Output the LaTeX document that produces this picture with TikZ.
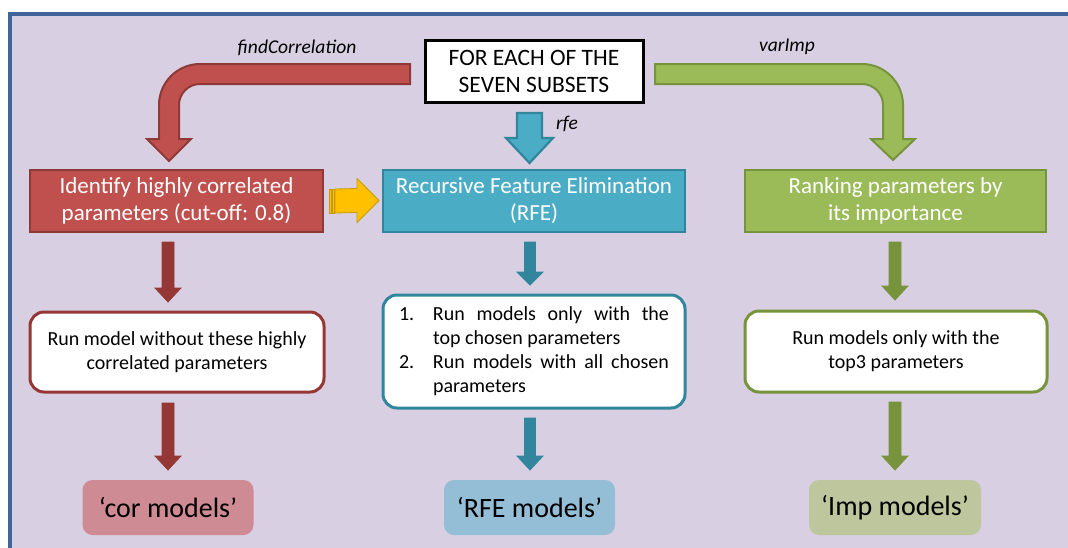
\documentclass[tikz,border=0pt]{standalone}
\usepackage{fontspec}
\setmainfont{Carlito}
\usetikzlibrary{calc}

\definecolor{pagebg}{HTML}{D8D0E2}
\definecolor{frameblue}{HTML}{3F659B}
\definecolor{redF}{HTML}{C0504D}
\definecolor{redD}{HTML}{8C3A38}
\definecolor{redA}{HTML}{953735}
\definecolor{blueF}{HTML}{4BACC6}
\definecolor{blueD}{HTML}{31859C}
\definecolor{greenF}{HTML}{9BBB59}
\definecolor{greenD}{HTML}{77933C}
\definecolor{yellowF}{HTML}{FFC000}
\definecolor{yellowD}{HTML}{C99A00}
\definecolor{corF}{HTML}{CE8B93}
\definecolor{rfeF}{HTML}{94BED6}
\definecolor{impF}{HTML}{BDC69C}

% down-pointing block arrow: style, top point, tip point, shaft half width, head half width, head length
\newcommand\blockdown[6]{%
  \draw[#1] ($(#2)+(-#4,0)$) -- ($(#2)+(#4,0)$) -- ($(#3)+(#4,-#6)$) -- ($(#3)+(#5,-#6)$)
    -- (#3) -- ($(#3)+(-#5,-#6)$) -- ($(#3)+(-#4,-#6)$) -- cycle;}

\begin{document}
\begin{tikzpicture}[x=1pt,y=-1pt,
  every node/.style={inner sep=0pt, outer sep=0pt},
  headbox/.style={draw=black, line width=3pt, fill=white, minimum width=218, minimum height=62,
    align=center, font=\fontsize{23.5}{27}\selectfont},
  stagebox/.style={line width=2pt, minimum height=62, text=white, align=center,
    font=\fontsize{23}{27}\selectfont},
  runbox/.style={fill=white, line width=3pt, rounded corners=14pt, align=center,
    font=\fontsize{20}{24}\selectfont},
  resultbox/.style={rounded corners=10pt, minimum width=171, minimum height=55,
    font=\fontsize{28}{30}\selectfont},
  lbl/.style={font=\fontsize{19.5}{22}\selectfont\itshape},
  arrowsmall/.style={line width=0.8pt}
]
\useasboundingbox (0,0) rectangle (1068,547);
\begin{scope}
  \clip (0,0) rectangle (1068,547);
  \fill[white] (0,0) rectangle (1068,547);
  \draw[fill=pagebg, draw=frameblue, line width=3.7pt] (10,14) rectangle (1090,570);
\end{scope}

% title box
\node[headbox] (subsets) at (534,71) {FOR EACH OF THE\\SEVEN SUBSETS};

% first row of stages
\node[stagebox, fill=redF, draw=redD, minimum width=293] (corr) at (176.5,201) {Identify highly correlated\\parameters (cut-off: 0.8)};
\node[stagebox, fill=blueF, draw=blueD, minimum width=302] (rfe) at (534,200.5) {Recursive Feature Elimination\\(RFE)};
\node[stagebox, fill=greenF, draw=greenD, minimum width=301] (imp) at (895.5,201) {Ranking parameters by\\its importance};

% model runs
\node[runbox, draw=redA, minimum width=294, minimum height=80] (corrun) at (177,352)
  {Run model without these highly\\correlated parameters};
\node[runbox, draw=blueD, minimum width=302, minimum height=113] (rferun) at (534,351.5)
  {\begin{tabular}{@{}l@{}l@{}}
   \makebox[34pt][l]{1.}&\makebox[236pt][s]{Run models only with the}\\
   &top chosen parameters\\
   \makebox[34pt][l]{2.}&\makebox[236pt][s]{Run models with all chosen}\\
   &parameters
   \end{tabular}};
\node[runbox, draw=greenD, minimum width=302, minimum height=81] (imprun) at (896,351.5)
  {Run models only with the\\top3 parameters};

% resulting model sets
\node[resultbox, fill=corF] (cormod) at (168,507.5) {‘cor models’};
\node[resultbox, fill=rfeF] (rfemod) at (529.5,507.5) {‘RFE models’};
\node[resultbox, fill=impF, minimum width=172] (impmod) at (895,507.5) {‘Imp models’};

% function labels
\node[lbl] (lfind) at (297,48) {findCorrelation};
\node[lbl] (lvar) at (787,47) {varImp};
\node[lbl] (lrfe) at (567,124) {rfe};

% bent arrow to the correlation branch
\draw[fill=redF, draw=redD, line width=2pt, line join=miter]
  (410,64) -- (200,64) .. controls (177.4,64) and (159,82.4) .. (159,105) -- (159,139)
  -- (147,139) -- (169,161) -- (191,139) -- (179,139) -- (179,105)
  .. controls (179,93.4) and (188.4,84) .. (200,84) -- (410,84) -- cycle;

% bent arrow to the importance branch
\draw[fill=greenF, draw=greenD, line width=2pt, line join=miter]
  (655,64) -- (862,64) .. controls (884.6,64) and (903,82.4) .. (903,105) -- (903,139)
  -- (915,139) -- (893,160) -- (871,139) -- (883,139) -- (883,105)
  .. controls (883,93.4) and (873.6,84) .. (862,84) -- (655,84) -- cycle;

% straight arrow to RFE
\coordinate (bT0) at (529.5,113);
\coordinate (bB0) at (529.5,163);
\blockdown{fill=blueF, draw=blueD, line width=2.2pt}{bT0}{bB0}{12.5}{23.5}{25}

% striped arrow from correlation filter to RFE
\coordinate (yS) at ($(corr.east)+(6,0)$);
\coordinate (yE) at ($(rfe.west)+(-4,0)$);
\draw[fill=yellowF, draw=yellowD, line width=0.6pt] ($(yS)+(0,-12)$) rectangle ($(yS)+(2,12)$);
\draw[fill=yellowF, draw=yellowD, line width=0.6pt] ($(yS)+(3,-12)$) rectangle ($(yS)+(5,12)$);
\draw[fill=yellowF, draw=yellowD, line width=0.8pt]
  ($(yS)+(6,-12)$) -- ($(yE)+(-22,-12)$) -- ($(yE)+(-22,-22)$) -- (yE)
  -- ($(yE)+(-22,22)$) -- ($(yE)+(-22,12)$) -- ($(yS)+(6,12)$) -- cycle;

% small arrows between the stages
\coordinate (rT1) at (168,242); \coordinate (rB1) at (168,302);
\coordinate (rT2) at (168,403); \coordinate (rB2) at (168,470);
\coordinate (bT1) at (530,242); \coordinate (bB1) at (530,285);
\coordinate (bT2) at (530,418); \coordinate (bB2) at (530,470);
\coordinate (gT1) at (895,242); \coordinate (gB1) at (895,300);
\coordinate (gT2) at (895,402); \coordinate (gB2) at (895,470);
\blockdown{arrowsmall, fill=redA, draw=redA}{rT1}{rB1}{6}{13}{14}
\blockdown{arrowsmall, fill=redA, draw=redA}{rT2}{rB2}{6}{13}{14}
\blockdown{arrowsmall, fill=blueD, draw=blueD}{bT1}{bB1}{5.5}{13}{13}
\blockdown{arrowsmall, fill=blueD, draw=blueD}{bT2}{bB2}{5.5}{13}{14}
\blockdown{arrowsmall, fill=greenD, draw=greenD}{gT1}{gB1}{6}{13}{14}
\blockdown{arrowsmall, fill=greenD, draw=greenD}{gT2}{gB2}{6}{13}{14}
\end{tikzpicture}
\end{document}
